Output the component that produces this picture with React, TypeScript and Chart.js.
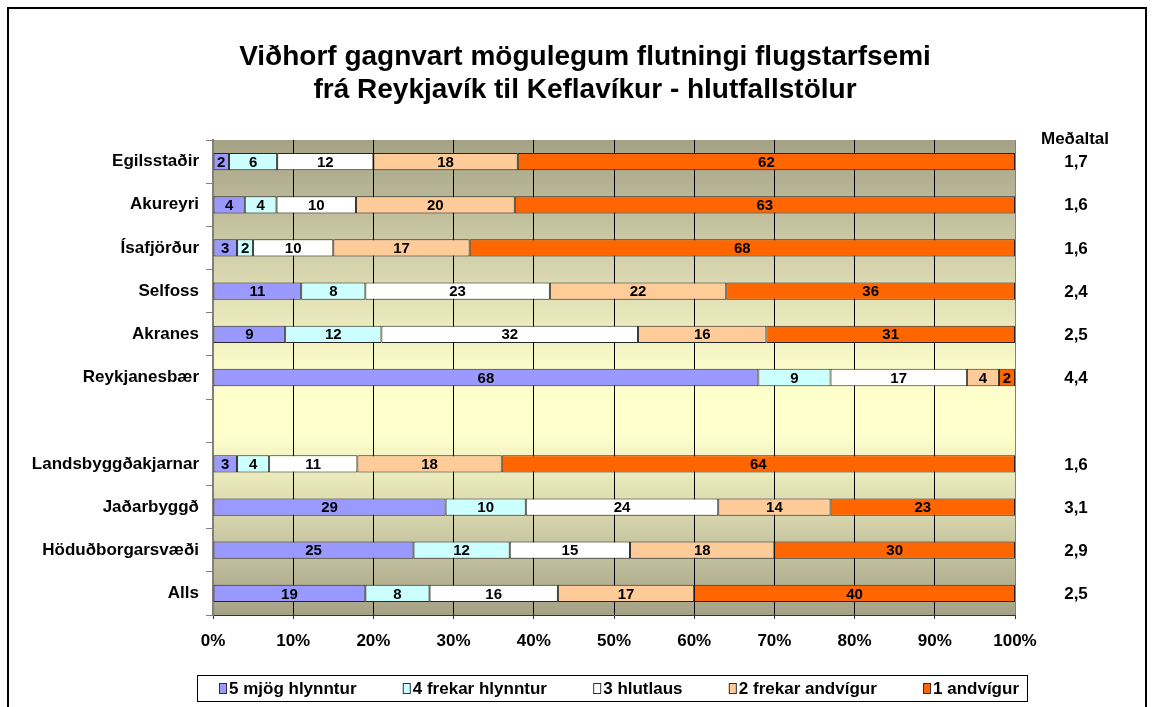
import React, { useEffect, useRef } from "react";
import { Chart, registerables } from "chart.js";

Chart.register(...registerables);

const categories = [
  "Egilsstaðir",
  "Akureyri",
  "Ísafjörður",
  "Selfoss",
  "Akranes",
  "Reykjanesbær",
  "",
  "Landsbyggðakjarnar",
  "Jaðarbyggð",
  "Höduðborgarsvæði",
  "Alls",
];

const seriesNames = ["5 mjög hlynntur", "4 frekar hlynntur", "3 hlutlaus", "2 frekar andvígur", "1 andvígur"];
const seriesColors = ["#9999FF", "#CCFFFF", "#FFFFFF", "#FFCC99", "#FF6600"];

const mjogHlynntur = [2, 4, 3, 11, 9, 68, null, 3, 29, 25, 19];
const frekarHlynntur = [6, 4, 2, 8, 12, 9, null, 4, 10, 12, 8];
const hlutlaus = [12, 10, 10, 23, 32, 17, null, 11, 24, 15, 16];
const frekarAndvigur = [18, 20, 17, 22, 16, 4, null, 18, 14, 18, 17];
const andvigur = [62, 63, 68, 36, 31, 2, null, 64, 23, 30, 40];

const medaltal = ["1,7", "1,6", "1,6", "2,4", "2,5", "4,4", "", "1,6", "3,1", "2,9", "2,5"];
const medaltalHeader = "Meðaltal";

const xTicks = [0, 10, 20, 30, 40, 50, 60, 70, 80, 90, 100];

const titleLines = ["Viðhorf gagnvart mögulegum flutningi flugstarfsemi", "frá Reykjavík til Keflavíkur - hlutfallstölur"];

const FONT = "'Liberation Sans', Arial, sans-serif";

function drawText(
  ctx: CanvasRenderingContext2D,
  text: string,
  x: number,
  y: number,
  size: number,
  align: CanvasTextAlign,
  sx = 1
) {
  ctx.save();
  ctx.font = `bold ${size}px ${FONT}`;
  ctx.textAlign = align;
  ctx.textBaseline = "middle";
  ctx.fillStyle = "#000";
  ctx.translate(x, y);
  ctx.scale(sx, 1);
  ctx.fillText(text, 0, 0);
  ctx.restore();
}

function textWidth(ctx: CanvasRenderingContext2D, text: string, size: number, sx = 1) {
  ctx.save();
  ctx.font = `bold ${size}px ${FONT}`;
  const w = ctx.measureText(text).width * sx;
  ctx.restore();
  return w;
}

export default function App() {
  const ref = useRef<HTMLCanvasElement | null>(null);

  useEffect(() => {
    document.body.style.margin = "0";
    const raw = [mjogHlynntur, frekarHlynntur, hlutlaus, frekarAndvigur, andvigur];
    const totals = categories.map((_, i) => raw.reduce((s, arr) => s + (arr[i] ?? 0), 0));
    const datasets = raw.map((arr, k) => ({
      label: seriesNames[k],
      data: arr.map((v, i) => (v == null ? null : (v / totals[i]) * 100)),
      rawValues: arr,
      backgroundColor: seriesColors[k],
      borderColor: "#262626",
      borderWidth: 1,
      borderSkipped: false as any,
      barPercentage: 0.4,
      categoryPercentage: 1,
    }));

    const decor = {
      id: "decor",
      beforeDraw(chart: any) {
        const { ctx, chartArea: a } = chart;
        ctx.save();
        ctx.fillStyle = "#ffffff";
        ctx.fillRect(0, 0, chart.width, chart.height);
        const g = ctx.createLinearGradient(0, a.top, 0, a.bottom);
        g.addColorStop(0, "#A4A186");
        g.addColorStop(0.25, "#D3D0AB");
        g.addColorStop(0.5, "#FFFFCC");
        g.addColorStop(0.62, "#FFFFCC");
        g.addColorStop(1, "#A4A186");
        ctx.fillStyle = g;
        ctx.fillRect(a.left, a.top, a.right - a.left, a.bottom - a.top);
        ctx.restore();
      },
      afterDraw(chart: any) {
        const { ctx, chartArea: a } = chart;
        const yScale = chart.scales.y;
        const xScale = chart.scales.x;
        ctx.save();
        // right border of plot
        ctx.strokeStyle = "#808080";
        ctx.lineWidth = 1;
        ctx.beginPath();
        ctx.moveTo(a.right + 0.5, a.top);
        ctx.lineTo(a.right + 0.5, a.bottom);
        ctx.stroke();
        // outer frame
        ctx.strokeStyle = "#000";
        ctx.lineWidth = 2;
        ctx.strokeRect(8, 8, chart.width - 16, chart.height + 20);
        ctx.restore();

        // title
        drawText(ctx, titleLines[0], 585, 57, 28, "center");
        drawText(ctx, titleLines[1], 585, 90, 28, "center");

        // category labels
        categories.forEach((c, i) => {
          if (!c) return;
          drawText(ctx, c, 199, yScale.getPixelForValue(i), 17, "right");
        });

        // x tick labels
        xTicks.forEach((v) => {
          drawText(ctx, `${v}%`, xScale.getPixelForValue(v), 641, 17, "center");
        });

        // data labels
        chart.data.datasets.forEach((ds: any, di: number) => {
          const meta = chart.getDatasetMeta(di);
          meta.data.forEach((el: any, i: number) => {
            const v = ds.rawValues[i];
            if (v == null) return;
            const c = el.getCenterPoint();
            drawText(ctx, String(v), c.x, c.y + 1, 15, "center");
          });
        });

        // Meðaltal column
        drawText(ctx, medaltalHeader, 1075, 139, 17, "center");
        medaltal.forEach((m, i) => {
          if (!m) return;
          drawText(ctx, m, 1076, yScale.getPixelForValue(i) + 1, 17, "center");
        });

        // legend
        const bx = 197, by = 675, bw = 830, bh = 26;
        ctx.save();
        ctx.strokeStyle = "#000";
        ctx.lineWidth = 1;
        ctx.strokeRect(bx + 0.5, by + 0.5, bw, bh);
        const lsize = 17;
        const widths = seriesNames.map((n) => textWidth(ctx, n, lsize));
        const markerW = 8, markerGap = 2;
        const itemsW = widths.reduce((s, w) => s + w + markerW + markerGap, 0);
        const padL = 22, padR = 8;
        const gap = (bw - padL - padR - itemsW) / (seriesNames.length - 1);
        let x = bx + padL;
        const cy = by + bh / 2 + 1;
        seriesNames.forEach((n, k) => {
          ctx.fillStyle = seriesColors[k];
          ctx.fillRect(x, cy - 6, markerW, 11);
          ctx.strokeStyle = "#333";
          ctx.strokeRect(x + 0.5, cy - 6 + 0.5, markerW - 1, 10);
          drawText(ctx, n, x + markerW + markerGap, cy, lsize, "left");
          x += markerW + markerGap + widths[k] + gap;
        });
        ctx.restore();
      },
    };

    const chart = new Chart(ref.current!, {
      type: "bar",
      data: { labels: categories, datasets: datasets as any },
      options: {
        indexAxis: "y",
        animation: false,
        responsive: false,
        layout: { padding: { top: 140, right: 139, left: 0, bottom: 0 } },
        plugins: {
          legend: { display: false },
          title: { display: false },
          tooltip: { enabled: false },
        },
        scales: {
          x: {
            stacked: true,
            min: 0,
            max: 100,
            afterBuildTicks(scale: any) {
              scale.ticks = xTicks.map((v) => ({ value: v }));
            },
            afterFit(scale: any) {
              scale.height = 92;
            },
            ticks: {
              display: false,
              autoSkip: false,
            },
            grid: { color: "#000", lineWidth: 1, tickLength: 4, tickColor: "#333" },
            border: { color: "#333", width: 1 },
          },
          y: {
            stacked: true,
            afterFit(scale: any) {
              scale.width = 213;
            },
            ticks: {
              display: false,
              autoSkip: false,
            },
            grid: { offset: true, drawOnChartArea: false, tickLength: 7, color: "#808080", lineWidth: 1 },
            border: { color: "#808080", width: 2 },
          },
        },
      },
      plugins: [decor],
    });
    return () => chart.destroy();
  }, []);

  return (
    <div style={{ position: "fixed", left: 0, top: 0, width: 1154, height: 707 }}>
      <canvas ref={ref} width={1154} height={707} />
    </div>
  );
}
